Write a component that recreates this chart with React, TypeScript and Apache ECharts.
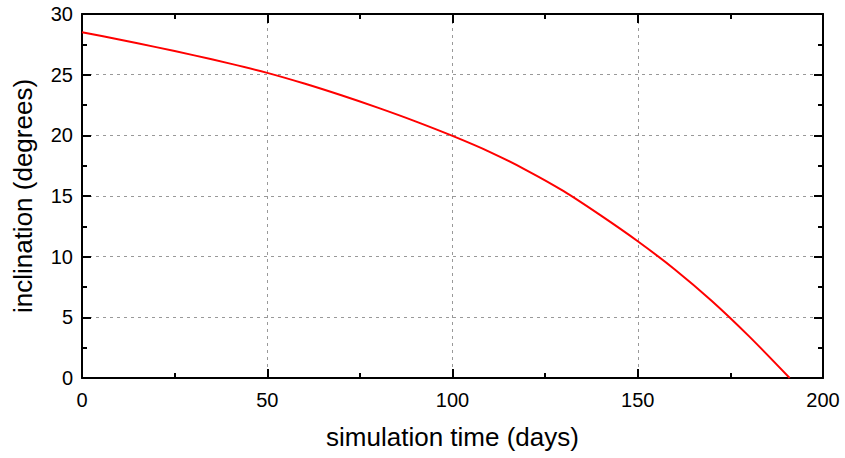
import React, { useEffect, useRef } from "react";
import * as echarts from "echarts";

const timeDays = [0, 10, 20, 30, 40, 50, 60, 70, 80, 90, 100, 110, 120, 130, 140, 150, 160, 170, 180, 191];
const inclination = [28.5, 27.9, 27.27, 26.61, 25.91, 25.15, 24.27, 23.3, 22.26, 21.15, 19.95, 18.64, 17.12, 15.4, 13.4, 11.27, 8.95, 6.35, 3.45, 0];
const xTicks = [0, 50, 100, 150, 200];
const yTicks = [0, 5, 10, 15, 20, 25, 30];

const FONT = "Liberation Sans, Arial, sans-serif";

export default function App() {
  const ref = useRef<HTMLDivElement>(null);
  useEffect(() => {
    if (!ref.current) return;
    const chart = echarts.init(ref.current, null, { renderer: "svg" });
    const axisLine = { show: true, onZero: false, lineStyle: { color: "#000", width: 2 } };
    const axisTick = { show: true, inside: true, length: 9, lineStyle: { color: "#000", width: 2 } };
    const minorTick = { show: true, splitNumber: 2, length: 5, lineStyle: { color: "#000", width: 2 } };
    const splitLine = { show: true, lineStyle: { color: "#999", width: 1, type: [3, 4] as any } };
    const xMin = xTicks[0], xMax = xTicks[xTicks.length - 1];
    const yMin = yTicks[0], yMax = yTicks[yTicks.length - 1];
    chart.setOption({
      animation: false,
      backgroundColor: "#fff",
      grid: { left: 82, right: 22, top: 14, bottom: 80, containLabel: false },
      xAxis: [
        {
          type: "value", min: xMin, max: xMax, interval: 50, position: "bottom",
          name: "simulation time (days)", nameLocation: "middle", nameGap: 46,
          nameTextStyle: { fontFamily: FONT, fontSize: 26, color: "#000" },
          axisLine, axisTick, minorTick, splitLine,
          axisLabel: { fontFamily: FONT, fontSize: 20, color: "#000", margin: 12 },
        },
        {
          type: "value", min: xMin, max: xMax, interval: 50, position: "top",
          axisLine, axisTick, minorTick, splitLine: { show: false },
          axisLabel: { show: false },
        },
      ],
      yAxis: [
        {
          type: "value", min: yMin, max: yMax, interval: 5, position: "left",
          name: "inclination (degrees)", nameLocation: "middle", nameGap: 46,
          nameTextStyle: { fontFamily: FONT, fontSize: 26, color: "#000" },
          axisLine, axisTick, minorTick, splitLine,
          axisLabel: { fontFamily: FONT, fontSize: 20, color: "#000", margin: 9 },
        },
        {
          type: "value", min: yMin, max: yMax, interval: 5, position: "right",
          axisLine, axisTick, minorTick, splitLine: { show: false },
          axisLabel: { show: false },
        },
      ],
      series: [
        {
          type: "line",
          xAxisIndex: 0, yAxisIndex: 0,
          data: timeDays.map((t, i) => [t, inclination[i]]),
          smooth: 0.3,
          showSymbol: false,
          lineStyle: { color: "#ff0000", width: 2 },
        },
      ],
    });
    return () => chart.dispose();
  }, []);
  return <div ref={ref} style={{ position: "fixed", left: 0, top: 0, width: 845, height: 458 }} />;
}
